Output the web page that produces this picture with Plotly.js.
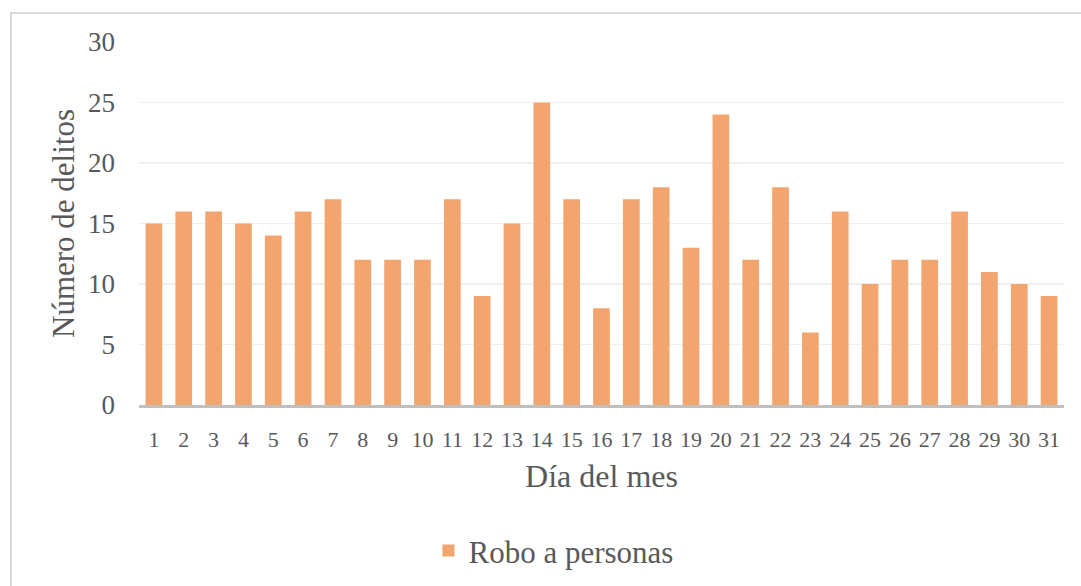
<!DOCTYPE html>
<html>
<head>
<meta charset="utf-8">
<script src="https://cdn.plot.ly/plotly-3.0.1.min.js"></script>
<style>
  html, body { margin: 0; padding: 0; background: #ffffff; overflow: hidden; }
  #frame { position: absolute; left: 10px; top: 12px; width: 1200px; height: 700px; border: 2px solid #D9D9D9; box-sizing: border-box; }
  #chart { position: absolute; left: 0; top: 0; width: 1081px; height: 586px; }
</style>
</head>
<body>
<div id="frame"></div>
<div id="chart"></div>
<script>
const days = ["1","2","3","4","5","6","7","8","9","10","11","12","13","14","15","16","17","18","19","20","21","22","23","24","25","26","27","28","29","30","31"];
const roboPersonas = [15,16,16,15,14,16,17,12,12,12,17,9,15,25,17,8,17,18,13,24,12,18,6,16,10,12,12,16,11,10,9];
const seriesName = "Robo a personas";
const xTitle = "Día del mes";
const yTitle = "Número de delitos";
const yTicks = [0,5,10,15,20,25,30];

const fontFam = "Liberation Serif, Times New Roman, serif";
const txt = "#595959";

Plotly.newPlot("chart", [{
  type: "bar",
  x: days,
  y: roboPersonas,
  name: seriesName,
  marker: { color: "#F2A56F" },
  showlegend: true
}], {
  width: 1081, height: 586,
  margin: { l: 139, r: 17, t: 42, b: 181, pad: 0 },
  paper_bgcolor: "rgba(0,0,0,0)",
  plot_bgcolor: "rgba(0,0,0,0)",
  bargap: 0.44,
  font: { family: fontFam, color: txt },
  xaxis: {
    type: "category",
    showgrid: false,
    showline: true, linecolor: "#BFBFBF", linewidth: 3,
    ticks: "", ticklabelstandoff: 13,
    tickfont: { size: 22, color: txt, family: fontFam },
    title: { text: xTitle, font: { size: 32, color: txt, family: fontFam }, standoff: 14 },
    automargin: false
  },
  yaxis: {
    range: [0, 30],
    tickvals: yTicks,
    showgrid: true, gridcolor: "#EFEFEF", gridwidth: 1.5,
    zeroline: false,
    showline: false,
    ticks: "", ticklabelstandoff: 23,
    tickfont: { size: 27, color: txt, family: fontFam },
    title: { text: yTitle, font: { size: 31, color: txt, family: fontFam }, standoff: 4 },
    automargin: false
  },
  legend: {
    orientation: "h",
    x: 0.512, xanchor: "center", xref: "container",
    y: 0.06, yanchor: "middle", yref: "container",
    font: { size: 31, color: txt, family: fontFam },
    bgcolor: "rgba(0,0,0,0)"
  }
}, { displayModeBar: false, staticPlot: true });
</script>
</body>
</html>
